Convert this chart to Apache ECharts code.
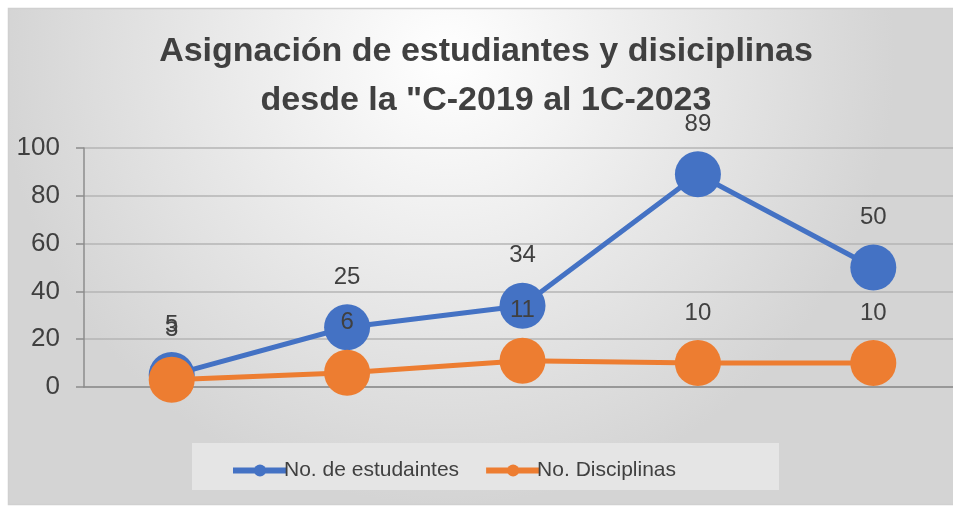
<!DOCTYPE html>
<html>
<head>
<meta charset="utf-8">
<script src="https://cdn.jsdelivr.net/npm/echarts@6/dist/echarts.min.js"></script>
<style>
  html, body { margin: 0; padding: 0; background: #ffffff; overflow: hidden; }
  #chart { width: 968px; height: 508px; }
</style>
</head>
<body>
<div id="chart"></div>
<script>
// Periods (no axis labels are shown for them)
const categories = ['2C-2019', '2020', '2021', '2022', '1C-2023'];
const estudiantes = [5, 25, 34, 89, 50];
const disciplinas = [3, 6, 11, 10, 10];
const yTicks = { min: 0, max: 100, interval: 20 };

const FONT = '"Liberation Sans", Arial, sans-serif';
const TEXT = '#404040';
const BLUE = '#4472C4';
const ORANGE = '#ED7D31';

const chart = echarts.init(document.getElementById('chart'), null, { renderer: 'canvas' });

chart.setOption({
  animation: false,
  backgroundColor: '#ffffff',
  graphic: [
    {
      type: 'rect', z: -10, silent: true,
      shape: { x: 8.5, y: 8.5, width: 975, height: 496 },
      style: {
        fill: {
          type: 'radial', x: 0.45, y: 0.1, r: 0.9,
          colorStops: [
            { offset: 0, color: '#ffffff' },
            { offset: 1, color: '#d4d4d4' }
          ]
        },
        stroke: '#d0d0d0', lineWidth: 1.5
      }
    },
    {
      type: 'rect', z: -9, silent: true,
      shape: { x: 192, y: 443, width: 587, height: 47 },
      style: { fill: '#e5e5e5' }
    }
  ],
  title: {
    text: 'Asignación de estudiantes y disiciplinas\ndesde la "C-2019 al 1C-2023',
    left: 481, top: 22, textAlign: 'center',
    textStyle: {
      fontFamily: FONT, fontSize: 34, fontWeight: 'bold',
      color: TEXT, lineHeight: 49
    }
  },
  legend: {
    left: 225, top: 455,
    itemWidth: 54, itemHeight: 15, itemGap: 24,
    textStyle: { fontFamily: FONT, fontSize: 21, color: TEXT, padding: [0, 0, 0, -8] },
    data: [
      { name: 'No. de estudaintes', lineStyle: { width: 6 } },
      { name: 'No. Disciplinas', lineStyle: { width: 6 } }
    ]
  },
  grid: { left: 84, top: 148, width: 877, height: 239 },
  xAxis: {
    type: 'category',
    data: categories,
    boundaryGap: true,
    axisLine: { lineStyle: { color: '#8c8c8c', width: 1.5 } },
    axisTick: { show: false },
    axisLabel: { show: false }
  },
  yAxis: {
    type: 'value',
    min: yTicks.min, max: yTicks.max, interval: yTicks.interval,
    axisLine: { show: true, lineStyle: { color: '#8c8c8c', width: 1.5 } },
    axisTick: { show: true, length: 8, lineStyle: { color: '#8c8c8c', width: 1.5 } },
    axisLabel: { fontFamily: FONT, fontSize: 26, color: TEXT, margin: 24 },
    splitLine: { lineStyle: { color: '#b4b4b4', width: 1.5 } }
  },
  series: [
    {
      name: 'No. de estudaintes',
      type: 'line',
      data: estudiantes,
      color: BLUE,
      symbol: 'circle', symbolSize: 46,
      lineStyle: { width: 5, color: BLUE },
      itemStyle: { color: BLUE },
      label: {
        show: true, position: 'top', distance: 15,
        fontFamily: FONT, fontSize: 24, color: TEXT
      },
      z: 2
    },
    {
      name: 'No. Disciplinas',
      type: 'line',
      data: disciplinas,
      color: ORANGE,
      symbol: 'circle', symbolSize: 46,
      lineStyle: { width: 5, color: ORANGE },
      itemStyle: { color: ORANGE },
      label: {
        show: true, position: 'top', distance: 15,
        fontFamily: FONT, fontSize: 24, color: TEXT
      },
      z: 3
    }
  ]
});
</script>
</body>
</html>
